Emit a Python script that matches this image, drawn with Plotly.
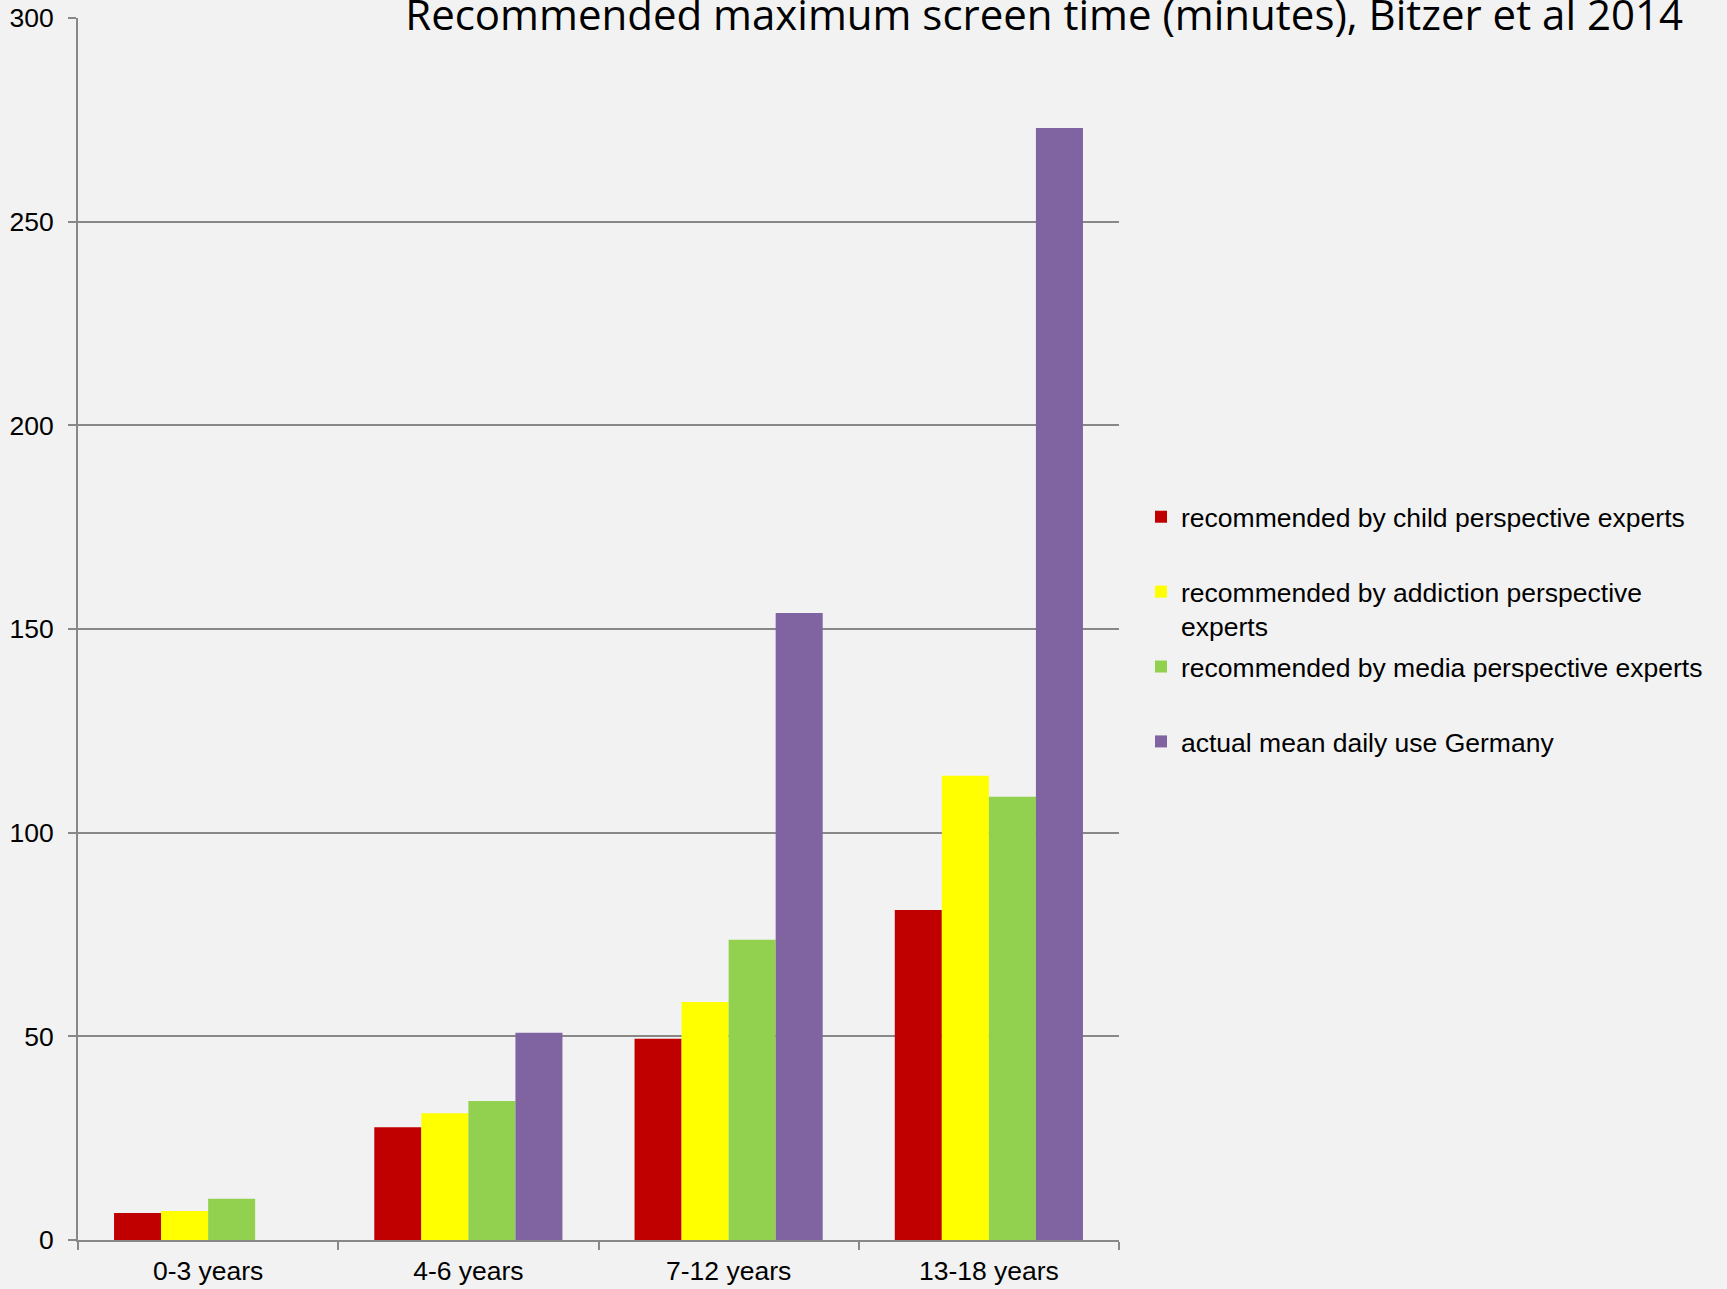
import plotly.graph_objects as go

categories = ["0-3 years", "4-6 years", "7-12 years", "13-18 years"]
series_names = [
    "recommended by child perspective experts<br> ",
    "recommended by addiction perspective<br>experts",
    "recommended by media perspective experts<br> ",
    "actual mean daily use Germany<br> ",
]
child_experts = [6.6, 27.7, 49.4, 81.0]
addiction_experts = [7.1, 31.1, 58.4, 114.0]
media_experts = [10.1, 34.1, 73.7, 108.8]
actual_use = [None, 50.9, 153.9, 273.0]
colors = ["#C00000", "#FFFF00", "#92D050", "#8064A2"]
y_ticks = [0, 50, 100, 150, 200, 250, 300]
title_text = "Recommended maximum screen time (minutes), Bitzer et al 2014"

W, H = 1727, 1289
L, R, T, B = 78, 1119, 18, 1240

fig = go.Figure()
for i, (name, vals) in enumerate(zip(series_names, [child_experts, addiction_experts, media_experts, actual_use])):
    fig.add_trace(go.Bar(
        x=categories, y=vals, name=name, marker_color=colors[i],
        marker_line_width=0, legendgroup=f"g{i}",
    ))

grid_col = "#888888"
fig.update_layout(
    width=W, height=H,
    margin=dict(l=L, r=W - R, t=T, b=H - B, pad=0, autoexpand=False),
    paper_bgcolor="#F2F2F2", plot_bgcolor="#F2F2F2",
    barmode="group", bargap=0.277, bargroupgap=0,
    font=dict(family="Liberation Sans, Arial", size=26, color="black"),
    showlegend=True,
    legend=dict(
        x=(1141 - L) / (R - L), xanchor="left",
        y=1 - (493 - T) / (B - T), yanchor="top",
        bgcolor="rgba(0,0,0,0)", borderwidth=0,
        font=dict(family="Liberation Sans, Arial", size=26.5, color="black"),
        tracegroupgap=3, valign="top", traceorder="grouped",
    ),
    xaxis=dict(
        type="category", showline=True, linecolor=grid_col, linewidth=2,
        ticks="outside", tickson="boundaries", ticklen=8, tickcolor=grid_col,
        tickwidth=2, showgrid=False, ticklabelstandoff=6, automargin=False,
        tickfont=dict(size=26.5, color="black"),
    ),
    yaxis=dict(
        range=[0, 300], tickvals=y_ticks, showline=True, linecolor=grid_col,
        linewidth=2, ticks="outside", ticklen=8, tickcolor=grid_col, tickwidth=2,
        showgrid=True, gridcolor=grid_col, gridwidth=2, zeroline=False,
        ticklabelstandoff=9, automargin=False,
        tickfont=dict(size=26.5, color="black"),
    ),
    title=dict(
        text=title_text, font=dict(family="Open Sans", size=42, color="black"),
        x=1683 / W, xanchor="right", xref="container",
        y=1 - 15 / H, yanchor="middle", yref="container",
    ),
)

fig.write_html("out.html")
